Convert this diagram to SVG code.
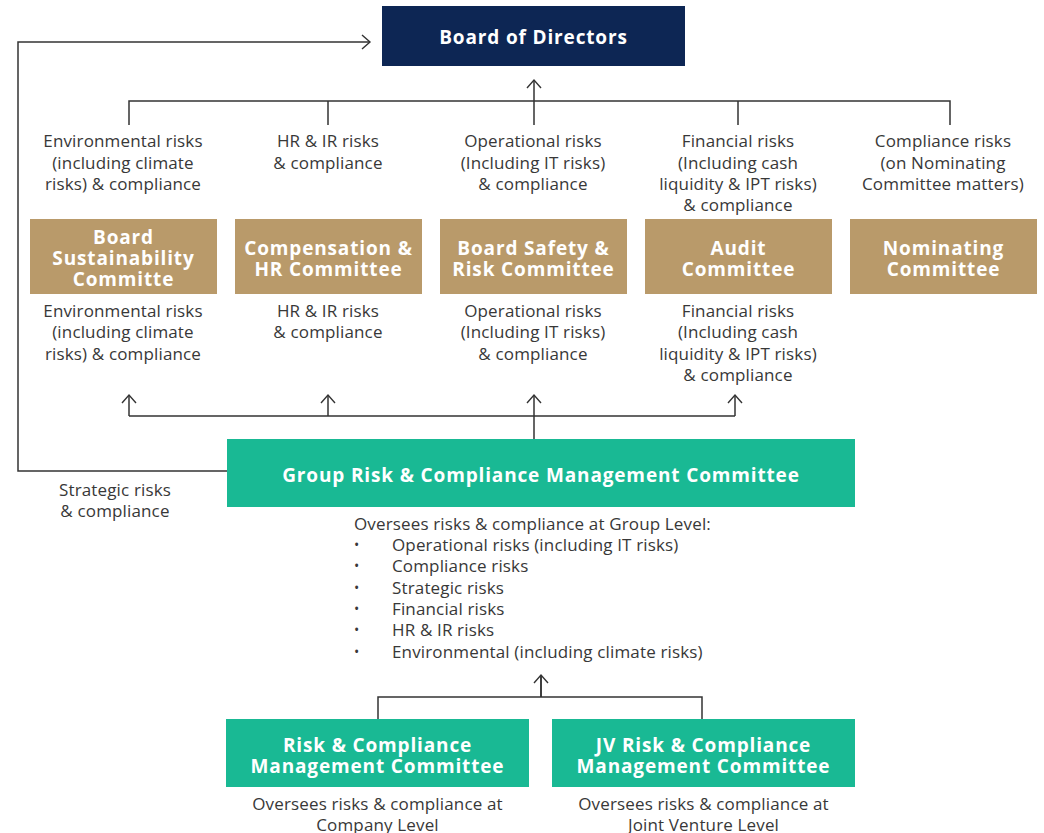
<svg xmlns="http://www.w3.org/2000/svg" width="1044" height="833" viewBox="0 0 1044 833">
<defs>
<marker id="ah" markerWidth="16" markerHeight="16" refX="10" refY="8" orient="auto" markerUnits="userSpaceOnUse">
<path d="M2,1 L10,8 L2,15" fill="none" stroke="#333" stroke-width="1.4"/>
</marker>
<style>
.ln{fill:none;stroke:#333;stroke-width:1.5}
.t{font-family:"Open Sans",Lato,sans-serif;font-size:17px;letter-spacing:0.15px;fill:#383838;text-anchor:middle}
.tl{font-family:"Open Sans",Lato,sans-serif;font-size:17px;letter-spacing:0.15px;fill:#383838}
.bul{font-family:"Open Sans",sans-serif;font-size:14px;fill:#383838}
.b{font-family:"Open Sans",Lato,sans-serif;font-weight:bold;font-size:19px;letter-spacing:0.85px;fill:#fff;text-anchor:middle}
.tan{fill:#b99a6a}
.grn{fill:#19b994}
</style>
</defs>
<rect width="1044" height="833" fill="#fff"/>
<g id="connectors">
<path class="ln" d="M534,101 V80" marker-end="url(#ah)"/>
<path class="ln" d="M129,125 V101 H950 V125 M328,101 V125 M534,101 V125 M738,101 V125"/>
<path class="ln" d="M227,471 H18 V42 H370" marker-end="url(#ah)"/>
<path class="ln" d="M129,416 H735 M534,439 V416"/>
<path class="ln" d="M129,416 V395" marker-end="url(#ah)"/>
<path class="ln" d="M328,416 V395" marker-end="url(#ah)"/>
<path class="ln" d="M534,416 V395" marker-end="url(#ah)"/>
<path class="ln" d="M735,416 V395" marker-end="url(#ah)"/>
<path class="ln" d="M378,719 V697 H702 V719 M541,697 V675"/>
<path class="ln" d="M541,697 V675" marker-end="url(#ah)"/>
</g>
<g id="board">
<rect x="382" y="6" width="303" height="60" fill="#0d2654"/>
<text class="b" x="533.5" y="44">Board of Directors</text>
</g>
<g id="labels-top">
<text class="t" x="123" y="147">Environmental risks</text>
<text class="t" x="123" y="169">(including climate</text>
<text class="t" x="123" y="190">risks) &amp; compliance</text>
<text class="t" x="328" y="147">HR &amp; IR risks</text>
<text class="t" x="328" y="169">&amp; compliance</text>
<text class="t" x="533" y="147">Operational risks</text>
<text class="t" x="533" y="169">(Including IT risks)</text>
<text class="t" x="533" y="190">&amp; compliance</text>
<text class="t" x="738" y="147">Financial risks</text>
<text class="t" x="738" y="169">(Including cash</text>
<text class="t" x="738" y="190">liquidity &amp; IPT risks)</text>
<text class="t" x="738" y="211">&amp; compliance</text>
<text class="t" x="943" y="147">Compliance risks</text>
<text class="t" x="943" y="169">(on Nominating</text>
<text class="t" x="943" y="190">Committee matters)</text>
</g>
<g id="bsc">
<rect class="tan" x="30" y="219" width="187" height="75"/>
<text class="b" x="123.5" y="244">Board</text>
<text class="b" x="123.5" y="265">Sustainability</text>
<text class="b" x="123.5" y="286">Committe</text>
</g>
<g id="chr">
<rect class="tan" x="235" y="219" width="187" height="75"/>
<text class="b" x="328.5" y="255">Compensation &amp;</text>
<text class="b" x="328.5" y="276">HR Committee</text>
</g>
<g id="bsrc">
<rect class="tan" x="440" y="219" width="187" height="75"/>
<text class="b" x="533.5" y="255">Board Safety &amp;</text>
<text class="b" x="533.5" y="276">Risk Committee</text>
</g>
<g id="audit">
<rect class="tan" x="645" y="219" width="187" height="75"/>
<text class="b" x="738.5" y="255">Audit</text>
<text class="b" x="738.5" y="276">Committee</text>
</g>
<g id="nom">
<rect class="tan" x="850" y="219" width="187" height="75"/>
<text class="b" x="943.5" y="255">Nominating</text>
<text class="b" x="943.5" y="276">Committee</text>
</g>
<g id="labels-bottom">
<text class="t" x="123" y="317">Environmental risks</text>
<text class="t" x="123" y="338">(including climate</text>
<text class="t" x="123" y="360">risks) &amp; compliance</text>
<text class="t" x="328" y="317">HR &amp; IR risks</text>
<text class="t" x="328" y="338">&amp; compliance</text>
<text class="t" x="533" y="317">Operational risks</text>
<text class="t" x="533" y="338">(Including IT risks)</text>
<text class="t" x="533" y="360">&amp; compliance</text>
<text class="t" x="738" y="317">Financial risks</text>
<text class="t" x="738" y="338">(Including cash</text>
<text class="t" x="738" y="360">liquidity &amp; IPT risks)</text>
<text class="t" x="738" y="381">&amp; compliance</text>
</g>
<g id="group">
<rect class="grn" x="227" y="439" width="628" height="68"/>
<text class="b" x="541" y="482">Group Risk &amp; Compliance Management Committee</text>
</g>
<g id="strategic">
<text class="t" x="115" y="496">Strategic risks</text>
<text class="t" x="115" y="517">&amp; compliance</text>
</g>
<g id="group-desc">
<text class="tl" x="354" y="530">Oversees risks &amp; compliance at Group Level:</text>
<g class="bul">
<text x="354" y="550">•</text>
<text x="354" y="571">•</text>
<text x="354" y="593">•</text>
<text x="354" y="614">•</text>
<text x="354" y="635">•</text>
<text x="354" y="657">•</text>
</g>
<g class="tl">
<text x="392" y="551">Operational risks (including IT risks)</text>
<text x="392" y="572">Compliance risks</text>
<text x="392" y="594">Strategic risks</text>
<text x="392" y="615">Financial risks</text>
<text x="392" y="636">HR &amp; IR risks</text>
<text x="392" y="658">Environmental (including climate risks)</text>
</g>
</g>
<g id="rcmc">
<rect class="grn" x="226" y="719" width="303" height="68"/>
<text class="b" x="377.5" y="752">Risk &amp; Compliance</text>
<text class="b" x="377.5" y="773">Management Committee</text>
<text class="t" x="377.5" y="810">Oversees risks &amp; compliance at</text>
<text class="t" x="377.5" y="831">Company Level</text>
</g>
<g id="jvrcmc">
<rect class="grn" x="552" y="719" width="303" height="68"/>
<text class="b" x="703.5" y="752">JV Risk &amp; Compliance</text>
<text class="b" x="703.5" y="773">Management Committee</text>
<text class="t" x="703.5" y="810">Oversees risks &amp; compliance at</text>
<text class="t" x="703.5" y="831">Joint Venture Level</text>
</g>
</svg>
